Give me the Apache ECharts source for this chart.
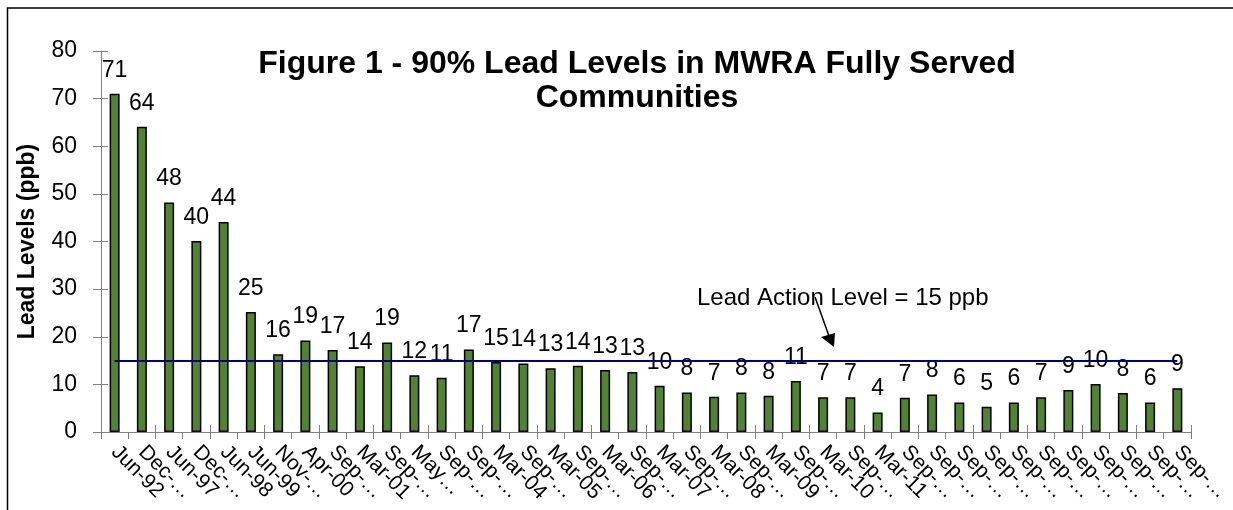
<!DOCTYPE html>
<html>
<head>
<meta charset="utf-8">
<script src="https://cdn.jsdelivr.net/npm/echarts@6/dist/echarts.min.js"></script>
<style>
  html, body { margin: 0; padding: 0; background: #fff; }
  #chart { width: 1233px; height: 510px; }
</style>
</head>
<body>
<div id="chart"></div>
<script>
// sampling rounds, as the axis shows them (Excel cut the long ones)
const sampleRounds = [
  "Jun-92", "Dec-…", "Jun-97", "Dec-…", "Jun-98", "Jun-99", "Nov-…", "Apr-00",
  "Sep-…", "Mar-01", "Sep-…", "May…", "Sep-…", "Sep-…", "Mar-04", "Sep-…",
  "Mar-05", "Sep-…", "Mar-06", "Sep-…", "Mar-07", "Sep-…", "Mar-08", "Sep-…",
  "Mar-09", "Sep-…", "Mar-10", "Sep-…", "Mar-11", "Sep-…", "Sep-…", "Sep-…",
  "Sep-…", "Sep-…", "Sep-…", "Sep-…", "Sep-…", "Sep-…", "Sep-…", "Sep-…"
];

// 90th percentile lead level, ppb
const leadLevels = [
  71.0, 64.1, 48.2, 40.1, 44.1, 25.2, 16.3, 19.2,
  17.2, 13.8, 18.8, 11.9, 11.4, 17.3, 14.7, 14.4,
  13.4, 13.9, 13.0, 12.6, 9.7, 8.3, 7.4, 8.3,
  7.6, 10.7, 7.3, 7.3, 4.1, 7.2, 7.9, 6.2,
  5.3, 6.2, 7.3, 8.8, 10.1, 8.2, 6.2, 9.2
];

const actionLevel = 15;
const yTicks = { min: 0, max: 80, interval: 10 };

const FONT = "'Liberation Sans', Arial, sans-serif";
const AXIS_GREY = "#808080";

const chart = echarts.init(document.getElementById("chart"), null, { renderer: "canvas" });

const option = {
  animation: false,
  grid: { left: 101, right: 33, top: 51, bottom: 78, containLabel: false },
  xAxis: [
    {
      type: "category",
      data: sampleRounds,
      position: "bottom",
      axisLine: { lineStyle: { color: AXIS_GREY, width: 1 } },
      axisTick: { show: true, alignWithLabel: false, length: 7, lineStyle: { color: AXIS_GREY } },
      axisLabel: {
        interval: 0,
        rotate: -45,
        margin: 17,
        color: "#000",
        fontFamily: FONT,
        fontSize: 21
      }
    },
    {
      // second copy only for the inner half of the cross ticks
      type: "category",
      data: sampleRounds,
      position: "bottom",
      axisLine: { show: false },
      axisTick: { show: true, inside: true, length: 7, lineStyle: { color: AXIS_GREY } },
      axisLabel: { show: false }
    }
  ],
  yAxis: [
    {
      type: "value",
      min: yTicks.min,
      max: yTicks.max,
      interval: yTicks.interval,
      position: "left",
      name: "Lead Levels (ppb)",
      nameLocation: "middle",
      nameGap: 62,
      nameTextStyle: { fontFamily: FONT, fontSize: 23, fontWeight: "bold", color: "#000" },
      axisLine: { show: true, lineStyle: { color: AXIS_GREY, width: 1 } },
      axisTick: { show: true, length: 8, lineStyle: { color: AXIS_GREY } },
      axisLabel: { margin: 24, color: "#000", fontFamily: FONT, fontSize: 23 },
      splitLine: { show: false }
    },
    {
      type: "value",
      min: yTicks.min,
      max: yTicks.max,
      interval: yTicks.interval,
      position: "left",
      axisLine: { show: false },
      axisTick: { show: true, inside: true, length: 7, lineStyle: { color: AXIS_GREY } },
      axisLabel: { show: false },
      splitLine: { show: false }
    }
  ],
  series: [
    {
      type: "bar",
      data: leadLevels,
      barWidth: 10,
      itemStyle: { color: "#548235", borderColor: "#000", borderWidth: 1.5 },
      label: {
        show: true,
        position: "top",
        distance: 12,
        color: "#000",
        fontFamily: FONT,
        fontSize: 23,
        formatter: (p) => String(Math.round(p.value))
      },
      markLine: {
        silent: true,
        symbol: "none",
        z: 10,
        label: { show: false },
        lineStyle: { color: "#000080", width: 2, type: "solid" },
        data: [[{ coord: [0, actionLevel] }, { coord: [sampleRounds.length - 1, actionLevel] }]]
      }
    }
  ],
  graphic: [
    {
      type: "rect",
      silent: true,
      shape: { x: 7.5, y: 8, width: 1400, height: 700 },
      style: { fill: "none", stroke: "#000", lineWidth: 1.5 }
    },
    {
      type: "text",
      x: 637,
      y: 47,
      style: {
        text: "Figure 1 - 90% Lead Levels in MWRA Fully Served\nCommunities",
        fontFamily: FONT,
        fontSize: 32,
        fontWeight: "bold",
        lineHeight: 34,
        fill: "#000",
        textAlign: "center",
        textVerticalAlign: "top"
      }
    },
    {
      type: "text",
      x: 697,
      y: 298,
      style: {
        text: "Lead Action Level = " + actionLevel + " ppb",
        fontFamily: FONT,
        fontSize: 24,
        fill: "#000",
        textAlign: "left",
        textVerticalAlign: "middle"
      }
    },
    {
      type: "line",
      silent: true,
      shape: { x1: 815, y1: 297, x2: 829, y2: 336 },
      style: { stroke: "#000", lineWidth: 1.5 }
    },
    {
      type: "polygon",
      silent: true,
      shape: { points: [[834, 347], [821, 337], [835, 333]] },
      style: { fill: "#000" }
    }
  ]
};

chart.setOption(option);
</script>
</body>
</html>
